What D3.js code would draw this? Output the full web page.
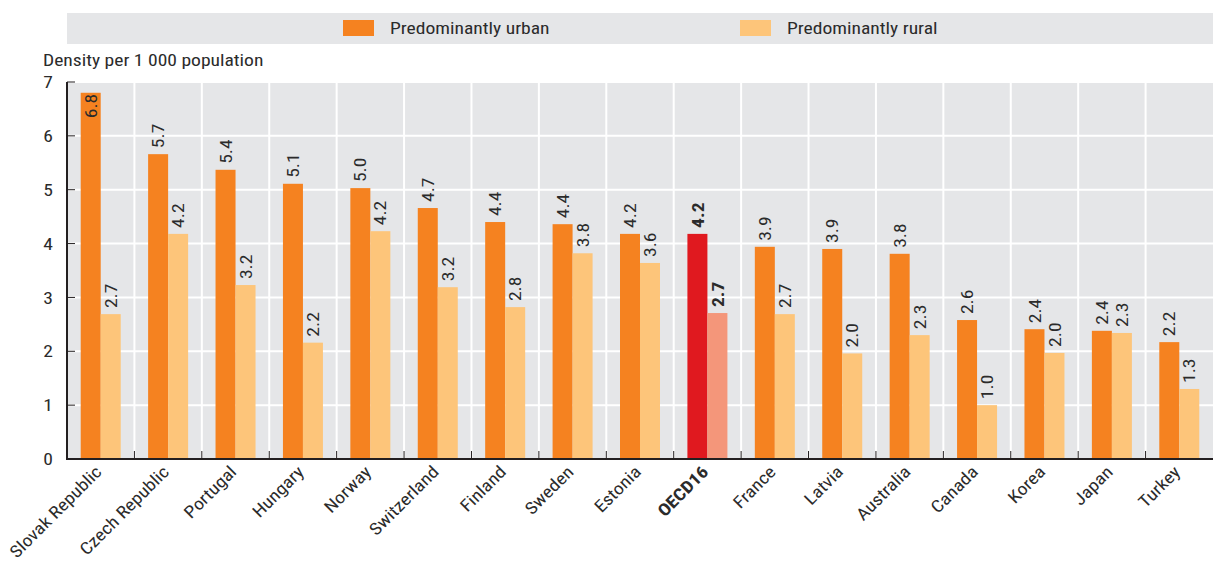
<!DOCTYPE html>
<html><head><meta charset="utf-8">
<script src="https://cdn.jsdelivr.net/npm/d3@7"></script>
<style>
body{margin:0;background:#fff;}
text{font-family:"Liberation Sans Narrow","Roboto Condensed","Arial Narrow",sans-serif;fill:#2b2b2b;}
</style></head><body>
<svg id="c" width="1213" height="562"></svg>
<script>
const categories = ["Slovak Republic","Czech Republic","Portugal","Hungary","Norway","Switzerland","Finland","Sweden","Estonia","OECD16","France","Latvia","Australia","Canada","Korea","Japan","Turkey"];
const urban = [6.8,5.66,5.37,5.11,5.03,4.66,4.40,4.36,4.18,4.18,3.94,3.90,3.81,2.58,2.41,2.38,2.17];
const rural = [2.69,4.18,3.23,2.16,4.23,3.19,2.82,3.82,3.64,2.71,2.69,1.96,2.30,1.0,1.97,2.34,1.30];
const seriesNames = ["Predominantly urban","Predominantly rural"];
const yTicks = [0,1,2,3,4,5,6,7];
const highlight = "OECD16";

const svg = d3.select("#c");
const m = {l:67, r:1213, t:82, b:459};
const col = {urban:"#f58220", rural:"#fdc57a", hu:"#e0191f", hr:"#f4967a", bg:"#e5e6e8"};
const STRETCH = 1.15;
function stretch(sel){
  sel.each(function(){
    const L = this.getComputedTextLength();
    d3.select(this).attr("textLength", L*STRETCH).attr("lengthAdjust","spacingAndGlyphs");
  });
}

const x = d3.scaleBand().domain(categories).range([m.l, m.r]).paddingInner(0).paddingOuter(0);
const inner = d3.scaleBand().domain([0,1]).range([0, 40]);
const y = d3.scaleLinear().domain([0,7]).range([m.b, m.t]);
const fmt = d3.format(".1f");

// legend band
svg.append("rect").attr("x",67).attr("y",13).attr("width",1146).attr("height",31).attr("fill",col.bg);
const legX = [343, 740];
seriesNames.forEach((n,i)=>{
  svg.append("rect").attr("x",legX[i]).attr("y",20).attr("width",31).attr("height",16).attr("fill", i?col.rural:col.urban);
  svg.append("text").attr("x",legX[i]+47).attr("y",34).attr("font-size",17).text(n).call(stretch);
});

// plot bg
svg.append("rect").attr("x",m.l).attr("y",m.t).attr("width",m.r-m.l).attr("height",m.b-m.t).attr("fill",col.bg);

// horizontal grid
svg.append("g").selectAll("line").data(yTicks.filter(d=>d>0)).join("line")
  .attr("x1",m.l).attr("x2",m.r).attr("y1",d=>y(d)).attr("y2",d=>y(d))
  .attr("stroke","#fff").attr("stroke-width",2);
// vertical grid at band boundaries
svg.append("g").selectAll("line").data(categories.slice(1)).join("line")
  .attr("x1",d=>x(d)).attr("x2",d=>x(d)).attr("y1",m.t).attr("y2",m.b)
  .attr("stroke","#fff").attr("stroke-width",2);

// bars
const off = (x.bandwidth()-40)/2;
categories.forEach((c,i)=>{
  const hi = c===highlight;
  [urban[i], rural[i]].forEach((v,j)=>{
    const bx = x(c)+off+inner(j);
    svg.append("rect").attr("x",bx).attr("y",y(v)).attr("width",inner.bandwidth()).attr("height",m.b-y(v))
      .attr("fill", hi ? (j?col.hr:col.hu) : (j?col.rural:col.urban));
    const t = svg.append("text").attr("font-size",17).attr("font-weight",hi?"bold":"normal")
      .attr("dy","0.36em").text(fmt(v)).call(stretch);
    const cx = bx+inner.bandwidth()/2;
    let ty = y(v)-6, anchor="start";
    if (ty - 26 < m.t) { ty = y(v)+1; anchor="end"; }
    t.attr("text-anchor",anchor).attr("transform",`translate(${cx},${ty}) rotate(-90)`);
  });
});

// axes
svg.append("line").attr("x1",m.l).attr("x2",m.l).attr("y1",m.t).attr("y2",m.b+1).attr("stroke","#231f20").attr("stroke-width",2);
svg.append("line").attr("x1",m.l-1).attr("x2",m.r).attr("y1",m.b).attr("y2",m.b).attr("stroke","#231f20").attr("stroke-width",2);
// y ticks inward
svg.append("g").selectAll("line").data(yTicks).join("line")
  .attr("x1",m.l).attr("x2",m.l+8).attr("y1",d=>y(d)).attr("y2",d=>y(d)).attr("stroke","#231f20").attr("stroke-width",1);
svg.append("g").selectAll("text").data(yTicks).join("text")
  .attr("x",53).attr("y",d=>y(d)).attr("dy","0.36em").attr("text-anchor","end").attr("font-size",17).text(d=>d).call(stretch);
// x ticks at boundaries
svg.append("g").selectAll("line").data(categories.slice(1)).join("line")
  .attr("x1",d=>x(d)).attr("x2",d=>x(d)).attr("y1",m.b).attr("y2",m.b-8).attr("stroke","#231f20").attr("stroke-width",1);
// x labels
svg.append("g").selectAll("text").data(categories).join("text")
  .attr("text-anchor","end").attr("font-size",17)
  .attr("font-weight",d=>d===highlight?"bold":"normal")
  .attr("transform",d=>`translate(${x(d)+x.bandwidth()/2+2},${m.b+14}) rotate(-45)`)
  .text(d=>d).call(stretch);

// y title
svg.append("text").attr("x",43).attr("y",66).attr("font-size",17).text("Density per 1 000 population").call(stretch);
</script></body></html>
